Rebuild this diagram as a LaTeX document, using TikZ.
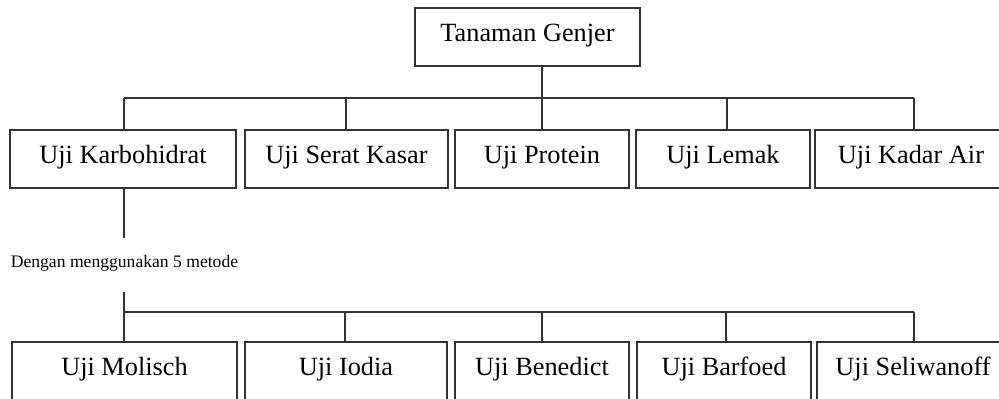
\documentclass[tikz,border=0pt]{standalone}
\usepackage{fontspec}
\setmainfont{Liberation Serif}
\begin{document}
\begin{tikzpicture}[x=1pt,y=-1pt,
  box/.style={draw=black!80, line width=1.2pt, inner sep=0pt, minimum height=58pt,
    text height=18pt, text depth=10pt, font=\fontsize{26.3}{30}\selectfont},
  conn/.style={draw=black!80, line width=1.2pt}]
\clip (0,0) rectangle (999,399);
\fill[white] (0,0) rectangle (999,399);
% top
\node[box, minimum width=225pt] (top) at (527.5,37) {Tanaman Genjer};
% row 1
\node[box, minimum width=226pt] (k) at (123,159) {Uji Karbohidrat};
\node[box, minimum width=203pt] (s) at (346.5,159) {Uji Serat Kasar};
\node[box, minimum width=174pt] (p) at (542,159) {Uji Protein};
\node[box, minimum width=174pt] (l) at (723,159) {Uji Lemak};
\node[box, minimum width=192pt] (a) at (911,159) {Uji Kadar Air};
\coordinate (bus) at (0,98);
\draw[conn] ([xshift=14.5pt]top.south) -- ([xshift=14.5pt]top.south |- bus);
\draw[conn] ([xshift=1pt]k.north |- bus) -- ([xshift=3pt]a.north |- bus);
\draw[conn] ([xshift=1pt]k.north) -- ([xshift=1pt]k.north |- bus);
\draw[conn] ([xshift=-0.5pt]s.north) -- ([xshift=-0.5pt]s.north |- bus);
\draw[conn] (p.north) -- (p.north |- bus);
\draw[conn] ([xshift=4pt]l.north) -- ([xshift=4pt]l.north |- bus);
\draw[conn] ([xshift=3pt]a.north) -- ([xshift=3pt]a.north |- bus);
% label
\node[inner sep=0pt, minimum height=54pt, text height=10pt, text depth=6pt,
  font=\fontsize{17.6}{20}\selectfont] (lbl) at (124.5,265) {Dengan menggunakan 5 metode};
\draw[conn] ([xshift=1pt]k.south) -- ([xshift=1pt]k.south |- lbl.north);
% row 2
\node[box, minimum width=225pt] (m) at (124.5,371) {Uji Molisch};
\node[box, minimum width=202pt] (io) at (346,371) {Uji Iodia};
\node[box, minimum width=174pt] (be) at (542,371) {Uji Benedict};
\node[box, minimum width=174pt] (ba) at (724,371) {Uji Barfoed};
\node[box, minimum width=192pt] (se) at (913,371) {Uji Seliwanoff};
\coordinate (bus2) at (0,312);
\draw[conn] (lbl.south -| k.south) ++(1pt,0) coordinate (lk) -- (lk |- bus2);
\draw[conn] ([xshift=-0.5pt]m.north |- bus2) -- ([xshift=1pt]se.north |- bus2);
\draw[conn] ([xshift=-0.5pt]m.north) -- ([xshift=-0.5pt]m.north |- bus2);
\draw[conn] ([xshift=-1pt]io.north) -- ([xshift=-1pt]io.north |- bus2);
\draw[conn] (be.north) -- (be.north |- bus2);
\draw[conn] ([xshift=2pt]ba.north) -- ([xshift=2pt]ba.north |- bus2);
\draw[conn] ([xshift=1pt]se.north) -- ([xshift=1pt]se.north |- bus2);
\end{tikzpicture}
\end{document}
